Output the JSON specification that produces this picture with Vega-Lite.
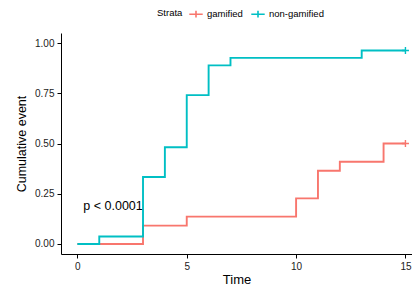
{
  "$schema": "https://vega.github.io/schema/vega-lite/v6.json",
  "width": 351,
  "height": 221,
  "autosize": {"type": "none"},
  "padding": {"left": 61, "top": 33, "right": 0, "bottom": 32},
  "config": {"view": {"stroke": null}, "font": "Liberation Sans"},
  "datasets": {
    "curves": [
      {"strata": "gamified", "time": 0, "event": 0},
      {"strata": "gamified", "time": 3, "event": 0.091},
      {"strata": "gamified", "time": 5, "event": 0.136},
      {"strata": "gamified", "time": 10, "event": 0.227},
      {"strata": "gamified", "time": 11, "event": 0.364},
      {"strata": "gamified", "time": 12, "event": 0.409},
      {"strata": "gamified", "time": 14, "event": 0.5},
      {"strata": "gamified", "time": 15, "event": 0.5},
      {"strata": "non-gamified", "time": 0, "event": 0},
      {"strata": "non-gamified", "time": 1, "event": 0.037},
      {"strata": "non-gamified", "time": 3, "event": 0.333},
      {"strata": "non-gamified", "time": 4, "event": 0.481},
      {"strata": "non-gamified", "time": 5, "event": 0.741},
      {"strata": "non-gamified", "time": 6, "event": 0.889},
      {"strata": "non-gamified", "time": 7, "event": 0.926},
      {"strata": "non-gamified", "time": 13, "event": 0.963},
      {"strata": "non-gamified", "time": 15, "event": 0.963}
    ],
    "censor": [
      {"strata": "gamified", "time": 15, "event": 0.5},
      {"strata": "non-gamified", "time": 15, "event": 0.963}
    ],
    "pval": [
      {"time": 0.27, "event": 0.19, "label": "p < 0.0001"}
    ]
  },
  "layer": [
    {
      "data": {"name": "curves"},
      "mark": {"type": "line", "interpolate": "step-after", "strokeWidth": 1.9},
      "encoding": {
        "x": {
          "field": "time", "type": "quantitative",
          "scale": {"domain": [-0.75, 15.3], "nice": false, "zero": false},
          "axis": {"values": [0, 5, 10, 15], "title": "Time", "grid": false, "domainColor": "#000", "tickColor": "#000", "tickSize": 4, "labelPadding": 3, "labelColor": "#222", "labelFontSize": 10, "titleFontSize": 13, "titleFontWeight": "normal", "titlePadding": 2, "labelFlush": false}
        },
        "y": {
          "field": "event", "type": "quantitative",
          "scale": {"domain": [-0.05, 1.05], "nice": false, "zero": false},
          "axis": {"values": [0, 0.25, 0.5, 0.75, 1], "format": ".2f", "title": "Cumulative event", "grid": false, "domainColor": "#000", "tickColor": "#000", "tickSize": 4, "labelPadding": 3, "labelColor": "#222", "labelFontSize": 10, "titleFontSize": 12.5, "titleFontWeight": "normal", "titlePadding": 6}
        },
        "color": {
          "field": "strata", "type": "nominal",
          "scale": {"domain": ["gamified", "non-gamified"], "range": ["#F8766D", "#00BFC4"]},
          "legend": {"orient": "none", "legendX": 96, "legendY": -27, "direction": "horizontal", "title": "Strata", "titleOrient": "left", "titleFontSize": 9.5, "titleFontWeight": "normal", "titleColor": "#000", "labelFontSize": 9.5, "labelColor": "#000", "symbolType": "M-1,0L1,0M0,-0.5L0,0.5", "symbolSize": 180, "symbolStrokeWidth": 1.6, "columnPadding": 5, "labelOffset": 3}
        }
      }
    },
    {
      "data": {"name": "censor"},
      "mark": {"type": "point", "shape": "M-1,0L1,0M0,-1L0,1", "filled": false, "size": 50, "strokeWidth": 1.4, "opacity": 1},
      "encoding": {
        "x": {"field": "time", "type": "quantitative"},
        "y": {"field": "event", "type": "quantitative"},
        "color": {"field": "strata", "type": "nominal"}
      }
    },
    {
      "data": {"name": "pval"},
      "mark": {"type": "text", "align": "left", "baseline": "middle", "fontSize": 12.5, "color": "#000"},
      "encoding": {
        "x": {"field": "time", "type": "quantitative"},
        "y": {"field": "event", "type": "quantitative"},
        "text": {"field": "label"}
      }
    }
  ]
}
